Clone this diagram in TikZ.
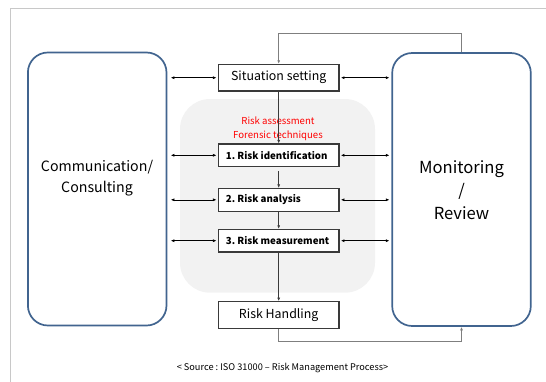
\documentclass[tikz,border=0pt]{standalone}
\usepackage{fontspec}
\setmainfont{Noto Sans CJK KR}
\usetikzlibrary{arrows.meta}
\definecolor{sideblue}{HTML}{41648F}
\definecolor{boxgray}{HTML}{3A3A3A}
\definecolor{loopgray}{HTML}{7F7F7F}
\definecolor{regiongray}{HTML}{F2F2F2}
\definecolor{framegray}{HTML}{C8C8C8}
\newcommand{\stagetext}[1]{\makebox[105.7pt][l]{#1}}
\frenchspacing
\tikzset{
  sidebox/.style={draw=sideblue, line width=1.7pt, rounded corners=20pt, minimum width=138.6pt, minimum height=273pt, inner sep=0pt},
  procbox/.style={draw=boxgray, line width=1.2pt, fill=white, minimum width=120.7pt, minimum height=26.7pt, inner sep=0pt, font=\fontsize{12.4}{14}\selectfont},
  stagebox/.style={draw=boxgray, line width=1.2pt, fill=white, minimum width=120.7pt, minimum height=22.7pt, inner xsep=7.5pt, inner ysep=0pt, font=\fontsize{9.7}{11}\selectfont\bfseries},
  biarrow/.style={draw=black, line width=0.6pt, {Latex[length=3.5pt,width=3pt]}-{Latex[length=3.5pt,width=3pt]}},
  downarrow/.style={draw=boxgray, line width=0.6pt, -{Latex[length=3.5pt,width=3pt]}},
  loopline/.style={draw=loopgray, line width=0.9pt, -{Latex[length=3.5pt,width=3pt]}},
  sidetext/.style={align=center, inner sep=0pt},
}
\begin{document}
\begin{tikzpicture}[x=1pt,y=-1pt]
\useasboundingbox (0,0) rectangle (546,381);
% outer frame
\draw[framegray, line width=0.8pt] (10,390) -- (10,8) -- (560,8);
% grey region
\fill[regiongray, rounded corners=30pt] (180,99) rectangle (375,292.7);
% side boxes
\node[sidebox] (comm) at (97.2,189) {};
\node[sidebox] (mon) at (461.5,189.5) {};
\node[sidetext, font=\fontsize{14.2}{21.3}\selectfont] (commtext) at (97,178.3) {Communication/\\Consulting};
\node[sidetext, font=\fontsize{16.6}{23.3}\selectfont] (montext) at (461.5,190) {Monitoring\\/\\Review};
% process boxes
\node[procbox] (sit) at (278.7,77.7) {Situation setting};
\node[stagebox] (b1) at (278.7,155.3) {\stagetext{1. Risk identification}};
\node[stagebox] (b2) at (278.7,199.8) {\stagetext{2. Risk analysis}};
\node[stagebox] (b3) at (278.7,240.7) {\stagetext{3. Risk measurement}};
\node[procbox] (hand) at (278.7,315) {Risk Handling};
% red label
\node[text=red, font=\fontsize{9.6}{14.3}\selectfont, align=center, inner sep=0pt] (assess) at (278,128.7) {Risk assessment\\Forensic techniques};
% vertical flow
\draw[downarrow] (sit.south) -- (b1.north);
\draw[downarrow, shorten <=4pt] (b1.south) -- (b2.north);
\draw[downarrow] (b2.south) -- (b3.north);
\draw[downarrow] (b3.south) -- (hand.north);
% loops
\coordinate (topy) at (0,33.7);
\coordinate (boty) at (0,341.7);
\draw[loopline] (mon.north) -- (mon.north |- topy) -| (sit.north);
\draw[loopline] (hand.south) -- (hand.south |- boty) -| (mon.south);
% horizontal two-way arrows
\foreach \b in {sit,b1,b2,b3}{
  \draw[biarrow, shorten <=3.5pt, shorten >=1.3pt] (comm.east |- \b) -- (\b.west);
  \draw[biarrow, shorten <=1.3pt, shorten >=2pt] (\b.east) -- (mon.west |- \b);
}
% source
\node[font=\fontsize{9.2}{12}\selectfont, inner sep=0pt] (src) at (282.5,367.7) {< Source : ISO 31000 – Risk Management Process>};
\end{tikzpicture}
\end{document}
